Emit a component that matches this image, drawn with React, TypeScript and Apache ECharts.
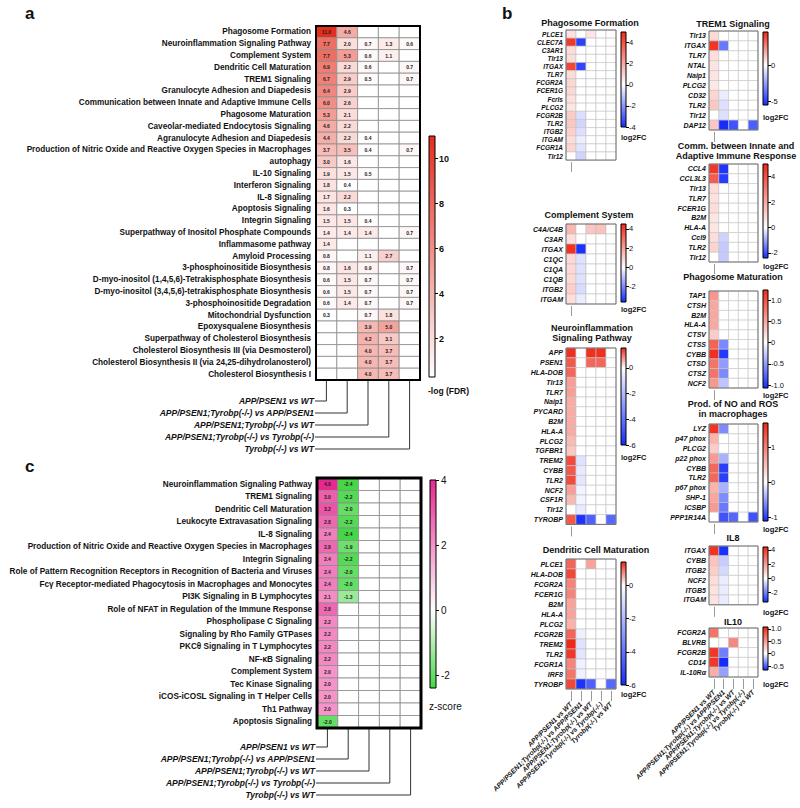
import React, { useEffect, useRef } from 'react';
import * as echarts from 'echarts';

const FONT = "'Liberation Sans', Arial, Helvetica, sans-serif";

const comparisons = [
  'APP/PSEN1 vs WT',
  'APP/PSEN1;Tyrobp(-/-) vs APP/PSEN1',
  'APP/PSEN1;Tyrobp(-/-) vs WT',
  'APP/PSEN1;Tyrobp(-/-) vs Tyrobp(-/-)',
  'Tyrobp(-/-) vs WT',
];

// ---------- Panel a : -log(FDR) ----------
const pathwaysA = [
  'Phagosome Formation',
  'Neuroinflammation Signaling Pathway',
  'Complement System',
  'Dendritic Cell Maturation',
  'TREM1 Signaling',
  'Granulocyte Adhesion and Diapedesis',
  'Communication between Innate and Adaptive Immune Cells',
  'Phagosome Maturation',
  'Caveolar-mediated Endocytosis Signaling',
  'Agranulocyte Adhesion and Diapedesis',
  'Production of Nitric Oxide and Reactive Oxygen Species in Macrophages',
  'autophagy',
  'IL-10 Signaling',
  'Interferon Signaling',
  'IL-8 Signaling',
  'Apoptosis Signaling',
  'Integrin Signaling',
  'Superpathway of Inositol Phosphate Compounds',
  'Inflammasome pathway',
  'Amyloid Processing',
  '3-phosphoinositide Biosynthesis',
  'D-myo-inositol (1,4,5,6)-Tetrakisphosphate Biosynthesis',
  'D-myo-inositol (3,4,5,6)-tetrakisphosphate Biosynthesis',
  '3-phosphoinositide Degradation',
  'Mitochondrial Dysfunction',
  'Epoxysqualene Biosynthesis',
  'Superpathway of Cholesterol Biosynthesis',
  'Cholesterol Biosynthesis III (via Desmosterol)',
  'Cholesterol Biosynthesis II (via 24,25-dihydrolanosterol)',
  'Cholesterol Biosynthesis I',
];
const aCol1 = [11.0, 7.7, 7.7, 6.9, 6.7, 6.4, 6.0, 5.3, 4.6, 4.4, 3.7, 3.0, 1.9, 1.8, 1.7, 1.6, 1.5, 1.4, 1.4, 0.8, 0.8, 0.6, 0.6, 0.6, 0.3, null, null, null, null, null];
const aCol2 = [4.6, 2.0, 5.3, 2.2, 2.9, 2.9, 2.6, 2.1, 2.2, 2.2, 3.5, 1.6, 1.5, 0.4, 2.2, 0.3, 1.5, 1.4, null, null, 1.6, 1.5, 1.5, 1.4, null, null, null, null, null, null];
const aCol3 = [null, 0.7, 0.6, 0.6, 0.5, null, null, null, null, 0.4, 0.4, null, 0.5, null, null, null, 0.4, 1.4, null, 1.1, 0.9, 0.7, 0.7, 0.7, 0.7, 3.9, 4.2, 4.0, 4.0, 4.0];
const aCol4 = [null, 1.3, 1.1, null, null, null, null, null, null, null, null, null, null, null, null, null, null, null, null, 2.7, null, null, null, null, 1.8, 5.0, 3.1, 3.7, 3.7, 3.7];
const aCol5 = [null, 0.6, null, 0.7, 0.7, null, null, null, null, null, 0.7, null, null, null, null, null, null, 0.7, null, null, 0.7, 0.7, 0.7, 0.7, null, null, null, null, null, null];
const aScaleMin = 0.3;
const aScaleMax = 11.0;
const aTicks = [2, 4, 6, 8, 10];

// ---------- Panel c : z-score ----------
const pathwaysC = [
  'Neuroinflammation Signaling Pathway',
  'TREM1 Signaling',
  'Dendritic Cell Maturation',
  'Leukocyte Extravasation Signaling',
  'IL-8 Signaling',
  'Production of Nitric Oxide and Reactive Oxygen Species in Macrophages',
  'Integrin Signaling',
  'Role of Pattern Recognition Receptors in Recognition of Bacteria and Viruses',
  'Fc\u03b3 Receptor-mediated Phagocytosis in Macrophages and Monocytes',
  'PI3K Signaling in B Lymphocytes',
  'Role of NFAT in Regulation of the Immune Response',
  'Phospholipase C Signaling',
  'Signaling by Rho Family GTPases',
  'PKC\u03b8 Signaling in T Lymphocytes',
  'NF-\u03baB Signaling',
  'Complement System',
  'Tec Kinase Signaling',
  'iCOS-iCOSL Signaling in T Helper Cells',
  'Th1 Pathway',
  'Apoptosis Signaling',
];
const cCol1 = [4.0, 3.0, 3.2, 2.8, 2.4, 2.8, 2.4, 2.4, 2.4, 2.1, 2.8, 2.2, 2.2, 2.2, 2.2, 2.0, 2.0, 2.0, 2.0, -2.0];
const cCol2 = [-2.4, -2.2, -2.0, -2.2, -2.4, -1.9, -2.2, -2.0, -2.0, -1.3, null, null, null, null, null, null, null, null, null, null];
const cCol3 = pathwaysC.map(() => null);
const cCol4 = pathwaysC.map(() => null);
const cCol5 = pathwaysC.map(() => null);
const cScaleMin = -2.4;
const cScaleMax = 4.0;
const cTicks = [-2, 0, 2, 4];

// ---------- Panel b : log2FC ----------
const pfGenes = ['PLCE1', 'CLEC7A', 'C3AR1', 'Tlr13', 'ITGAX', 'TLR7', 'FCGR2A', 'FCER1G', 'Fcrls', 'PLCG2', 'FCGR2B', 'TLR2', 'ITGB2', 'ITGAM', 'FCGR1A', 'Tlr12'];
const pfValues = [
  [0.7, 0, 0.6, 0, 0], [4.6, -3.6, 0, 0, 0], [0.8, 0, 0, 0, 0], [0.8, 0, 0, 0, 0],
  [4.3, -3.5, 0, 0, 0], [0.8, 0, 0, 0, 0], [0.9, 0, 0, 0, 0], [0.9, 0, 0, 0, 0],
  [0.7, 0, 0, 0, 0], [0.6, 0, 0, 0, 0], [1.2, -0.6, 0, 0, 0], [1.3, -0.8, 0, 0, 0],
  [1.1, -0.6, 0, 0, 0], [0.8, -0.3, 0, 0, 0], [1.0, -0.5, 0, 0, 0], [0, -0.8, 0, 0, 0],
];
const pfTicks = [-4, -2, 0, 2, 4];

const compGenes = ['C4A/C4B', 'C3AR', 'ITGAX', 'C1QC', 'C1QA', 'C1QB', 'ITGB2', 'ITGAM'];
const compValues = [
  [1.5, 0, 1.2, 1.3, 0], [0.7, 0, 0, 0, 0], [4.3, -3.5, 0, 0, 0], [0.8, -0.5, 0, 0, 0],
  [0.8, -0.5, 0, 0, 0], [0.8, -0.5, 0, 0, 0], [1.0, -0.6, 0, 0, 0], [0.7, -0.3, 0, 0, 0],
];
const compTicks = [-2, 0, 2, 4];

const neuroGenes = ['APP', 'PSEN1', 'HLA-DOB', 'Tlr13', 'TLR7', 'Naip1', 'PYCARD', 'B2M', 'HLA-A', 'PLCG2', 'TGFBR1', 'TREM2', 'CYBB', 'TLR2', 'NCF2', 'CSF1R', 'Tlr12', 'TYROBP'];
const neuroValues = [
  [1.5, 0, 1.5, 1.5, 0], [1.2, 0, 1.1, 1.1, 0], [1.1, 0, 0, 0, 0], [0.7, 0, 0, 0, 0],
  [0.7, 0, 0, 0, 0], [0.6, 0, 0, 0, 0], [0.6, 0, 0, 0, 0], [0.6, 0, 0, 0, 0],
  [0.6, 0, 0, 0, 0], [0.5, 0, 0, 0, 0], [0.4, 0, 0, 0, 0], [1.3, -0.8, 0, 0, 0],
  [1.2, -0.6, 0, 0, 0], [1.3, -0.7, 0, 0, 0], [0.7, -0.3, 0, 0, 0], [0.5, -0.3, 0, 0, 0],
  [0, -0.6, 0, 0, 0], [1.2, -5.8, -4.5, 0, -4.3],
];
const neuroTicks = [-6, -4, -2, 0];

const dcGenes = ['PLCE1', 'HLA-DOB', 'FCGR2A', 'FCER1G', 'B2M', 'HLA-A', 'PLCG2', 'FCGR2B', 'TREM2', 'TLR2', 'FCGR1A', 'IRF8', 'TYROBP'];
const dcValues = [
  [1.0, 0, 0.6, 0, 0], [1.2, 0, 0, 0, 0], [0.8, 0, 0, 0, 0], [0.8, 0, 0, 0, 0],
  [0.6, 0, 0, 0, 0], [0.6, 0, 0, 0, 0], [0.5, 0, 0, 0, 0], [1.0, -0.4, 0, 0, 0],
  [1.4, -0.8, 0, 0, 0], [1.3, -0.7, 0, 0, 0], [0.8, -0.4, 0, 0, 0], [0.9, -0.4, 0, 0, 0],
  [1.2, -5.8, -4.5, 0, -4.3],
];
const dcTicks = [-6, -4, -2, 0];

const trem1Genes = ['Tlr13', 'ITGAX', 'TLR7', 'NTAL', 'Naip1', 'PLCG2', 'CD32', 'TLR2', 'Tlr12', 'DAP12'];
const trem1Values = [
  [0.8, 0, 0, 0, 0], [4.3, -3.5, 0, 0, 0], [0.7, 0, 0, 0, 0], [0.6, 0, 0, 0, 0],
  [0.6, 0, 0, 0, 0], [0.5, 0, 0, 0, 0], [0.9, -0.5, 0, 0, 0], [1.2, -0.8, 0, 0, 0],
  [0, -0.8, 0, 0, 0], [1.2, -5.5, -4.5, 0, -4.2],
];
const trem1Ticks = [-5, 0];

const commGenes = ['CCL4', 'CCL3L3', 'Tlr13', 'TLR7', 'FCER1G', 'B2M', 'HLA-A', 'Ccl9', 'TLR2', 'Tlr12'];
const commValues = [
  [4.6, -2.3, 0, 0, 0], [3.8, -2.2, 0, 0, 0], [0.8, 0, 0, 0, 0], [0.7, 0, 0, 0, 0],
  [0.8, 0, 0, 0, 0], [0.6, 0, 0, 0, 0], [0.6, 0, 0, 0, 0], [0.8, -0.5, 0, 0, 0],
  [1.0, -0.6, 0, 0, 0], [0, -0.6, 0, 0, 0],
];
const commTicks = [-2, 0, 2, 4];

const pmGenes = ['TAP1', 'CTSH', 'B2M', 'HLA-A', 'CTSV', 'CTSS', 'CYBB', 'CTSD', 'CTSZ', 'NCF2'];
const pmValues = [
  [0.6, 0, 0, 0, 0], [0.5, 0, 0, 0, 0], [0.5, 0, 0, 0, 0], [0.5, 0, 0, 0, 0],
  [0.3, 0, 0, 0, 0], [0.9, -0.6, 0, 0, 0], [1.2, -1.0, 0, 0, 0], [0.8, -0.5, 0, 0, 0],
  [0.8, -0.6, 0, 0, 0], [0.6, -0.3, 0, 0, 0],
];
const pmTicks = [-1, -0.5, 0, 0.5, 1];

const prodGenes = ['LYZ', 'p47 phox', 'PLCG2', 'p22 phox', 'CYBB', 'TLR2', 'p67 phox', 'SHP-1', 'ICSBP', 'PPP1R14A'];
const prodValues = [
  [1.6, -0.6, 0, 0, 0], [0.6, 0, 0, 0, 0], [0.4, 0, 0, 0, 0], [0.8, -0.4, 0, 0, 0],
  [1.2, -1.0, 0, 0, 0], [1.2, -1.0, 0, 0, 0], [0.6, -0.4, 0, 0, 0], [0.7, -0.6, 0, 0, 0],
  [0.8, -0.7, 0, 0, 0], [0, -0.9, -0.8, 0, -0.9],
];
const prodTicks = [-1, 0, 1];

const il8Genes = ['ITGAX', 'CYBB', 'ITGB2', 'NCF2', 'ITGB5', 'ITGAM'];
const il8Values = [
  [4.2, -3.2, 0, 0, 0], [1.2, -0.8, 0, 0, 0], [1.0, -0.6, 0, 0, 0],
  [0.7, -0.3, 0, 0, 0], [0.6, -0.3, 0, 0, 0], [0.6, -0.3, 0, 0, 0],
];
const il8Ticks = [-2, 0, 2, 4];

const il10Genes = ['FCGR2A', 'BLVRB', 'FCGR2B', 'CD14', 'IL-10R\u03b1'];
const il10Values = [
  [0.7, 0, 0, 0, 0], [0, 0, 0.6, 0, 0], [1.0, -0.4, 0, 0, 0], [1.0, -0.66, 0, 0, 0], [0.4, -0.3, 0, 0, 0],
];
const il10Ticks = [-0.5, 0, 0.5, 1];

// ---------- colours ----------
type RGB = [number, number, number];
const RED_A: RGB = [229, 45, 30];
const RED_B: RGB = [240, 40, 22];
const BLUE_B: RGB = [20, 44, 252];
const PINK_C: RGB = [232, 40, 145];
const GREEN_C: RGB = [70, 215, 70];

function mix(c: RGB, t: number) {
  const k = Math.max(0, Math.min(1, t));
  const r = Math.round(255 + (c[0] - 255) * k);
  const g = Math.round(255 + (c[1] - 255) * k);
  const b = Math.round(255 + (c[2] - 255) * k);
  return `rgb(${r},${g},${b})`;
}
function divColor(v: number, min: number, max: number, neg: RGB, pos: RGB) {
  if (v >= 0) return mix(pos, v / max);
  return mix(neg, v / min);
}

function buildOption() {
  const grid: any[] = [];
  const xAxis: any[] = [];
  const yAxis: any[] = [];
  const series: any[] = [];
  const graphic: any[] = [];

  const txt = (x: number, y: number, t: string, size: number, o: any = {}) =>
    graphic.push({
      type: 'text', x, y, rotation: o.rotation || 0, z: 120, silent: true,
      style: {
        text: t, fill: o.color || '#111', fontSize: size, fontWeight: o.weight || 'bold',
        fontStyle: o.style || 'normal', fontFamily: FONT,
        textAlign: o.align || 'left', align: o.align || 'left',
        textVerticalAlign: o.vAlign || 'middle', verticalAlign: o.vAlign || 'middle',
      },
    });

  const addHeatmap = (o: any) => {
    const gi = grid.length;
    const nRows = o.rows.length;
    grid.push({ left: o.left, top: o.top, width: o.width, height: o.rowH * nRows, show: false });
    xAxis.push({
      type: 'category', gridIndex: gi, data: comparisons, position: 'bottom', offset: o.tickOffset || 0,
      axisLine: { show: false },
      axisTick: o.ticks ? { show: true, alignWithLabel: true, length: o.ticks, lineStyle: { color: '#9a9a9a', width: 1 } } : { show: false },
      axisLabel: o.xLabels ? {
        show: true, interval: 0, rotate: 45, margin: o.ticks + 2, fontSize: o.xLabelSize,
        fontWeight: 'bold', fontStyle: 'italic', fontFamily: FONT, color: '#111',
      } : { show: false },
      splitLine: { show: false },
    });
    yAxis.push({
      type: 'category', gridIndex: gi, data: o.rows, inverse: true,
      axisLine: { show: false }, axisTick: { show: false }, splitLine: { show: false },
      axisLabel: {
        interval: 0, fontSize: o.fontSize, fontWeight: 'bold', fontStyle: o.italic ? 'italic' : 'normal',
        fontFamily: FONT, color: '#111', margin: o.labelMargin,
      },
    });
    const data: any[] = [];
    o.cols.forEach((col: (number | null)[], ci: number) => {
      col.forEach((v, ri) => {
        data.push(v == null ? [ci, ri, 0, 1] : [ci, ri, v, 0]);
      });
    });
    const colorFn = o.colorFn;
    const showValues = o.showValues;
    series.push({
      type: 'custom', xAxisIndex: gi, yAxisIndex: gi, data, silent: true,
      dimensions: ['col', 'row', 'value', 'empty'],
      encode: { x: 0, y: 1 },
      renderItem: (params: any, api: any) => {
        const ci = api.value(0);
        const ri = api.value(1);
        const v = api.value(2);
        const empty = api.value(3) === 1;
        const c = api.coord([ci, ri]);
        const s = api.size([1, 1]);
        const rect = {
          type: 'rect',
          shape: { x: c[0] - s[0] / 2, y: c[1] - s[1] / 2, width: s[0], height: s[1] },
          style: { fill: empty ? '#ffffff' : colorFn(v), stroke: o.cellBorder, lineWidth: o.cellBorderWidth },
        };
        if (!showValues || empty) return rect;
        return {
          type: 'group',
          children: [
            rect,
            {
              type: 'text', x: c[0], y: c[1],
              style: {
                text: Number(v).toFixed(1), fill: '#222', fontSize: o.valueSize, fontWeight: 'bold', fontFamily: FONT,
                align: 'center', verticalAlign: 'middle', textAlign: 'center', textVerticalAlign: 'middle',
              },
            },
          ],
        };
      },
    });
    graphic.push({
      type: 'rect', z: 115, silent: true,
      shape: { x: o.left, y: o.top, width: o.width, height: o.rowH * nRows },
      style: { fill: 'rgba(0,0,0,0)', stroke: o.boxColor, lineWidth: o.boxWidth },
    });
  };

  const addColorbar = (o: any) => {
    const gi = grid.length;
    grid.push({ left: o.x, top: o.top, width: o.w, height: o.bottom - o.top, show: false });
    xAxis.push({ type: 'category', gridIndex: gi, data: ['cb'], show: false });
    yAxis.push({
      type: 'value', gridIndex: gi, min: o.min, max: o.max, position: 'right',
      axisLine: { show: false }, splitLine: { show: false },
      axisTick: { show: true, length: 3, customValues: o.ticks, lineStyle: { color: '#000', width: 1 } },
      axisLabel: {
        show: true, customValues: o.ticks, margin: o.labelMargin || 3, fontSize: o.fontSize,
        fontWeight: o.weight || 'normal', fontFamily: FONT, color: '#111',
        formatter: (v: number) => (v === 0 ? '0' : v.toFixed(o.dec || 0)),
      },
    });
    const stops = o.stops;
    const mn = o.min;
    const mx = o.max;
    series.push({
      type: 'custom', xAxisIndex: gi, yAxisIndex: gi, data: [[0, mx]], silent: true,
      renderItem: (params: any, api: any) => {
        const p1 = api.coord([0, mx]);
        const p2 = api.coord([0, mn]);
        const cs = params.coordSys;
        return {
          type: 'rect',
          shape: { x: cs.x, y: p1[1], width: cs.width, height: p2[1] - p1[1] },
          style: { fill: new echarts.graphic.LinearGradient(0, 0, 0, 1, stops), stroke: '#000', lineWidth: 1 },
        };
      },
    });
  };

  // ======== Panel a ========
  const A_LEFT = 316, A_TOP = 26, A_W = 104, A_ROWH = 11.8;
  addHeatmap({
    left: A_LEFT, top: A_TOP, width: A_W, rowH: A_ROWH, rows: pathwaysA,
    cols: [aCol1, aCol2, aCol3, aCol4, aCol5],
    colorFn: (v: number) => mix(RED_A, (v - aScaleMin) / (aScaleMax - aScaleMin)),
    fontSize: 8.2, italic: false, labelMargin: 5, showValues: true, valueSize: 5,
    cellBorder: '#8c8c8c', cellBorderWidth: 0.8, boxColor: '#000', boxWidth: 2,
  });
  addColorbar({
    x: 429, w: 6, top: 136, bottom: 377, min: aScaleMin, max: aScaleMax, ticks: aTicks,
    fontSize: 9, weight: 'bold', labelMargin: 4,
    stops: [{ offset: 0, color: mix(RED_A, 1) }, { offset: 1, color: mix(RED_A, 0) }],
  });
  txt(428, 391, '-log (FDR)', 8.5);
  const aBottom = A_TOP + A_ROWH * pathwaysA.length;
  comparisons.forEach((c, i) => {
    const cx = A_LEFT + (i + 0.5) * (A_W / 5);
    const ly = 401 + i * 12;
    graphic.push({ type: 'polyline', z: 110, silent: true, shape: { points: [[cx, aBottom], [cx, ly], [A_LEFT - 1, ly]] }, style: { stroke: '#333', lineWidth: 1, fill: null } });
    txt(A_LEFT - 2, ly, c, 8.5, { style: 'italic', align: 'right' });
  });
  txt(25, 13, 'a', 17);

  // ======== Panel c ========
  const C_LEFT = 317, C_TOP = 478, C_W = 104, C_ROWH = 12.5;
  addHeatmap({
    left: C_LEFT, top: C_TOP, width: C_W, rowH: C_ROWH, rows: pathwaysC,
    cols: [cCol1, cCol2, cCol3, cCol4, cCol5],
    colorFn: (v: number) => divColor(v, cScaleMin, cScaleMax, GREEN_C, PINK_C),
    fontSize: 8.2, italic: false, labelMargin: 5, showValues: true, valueSize: 5,
    cellBorder: '#8c8c8c', cellBorderWidth: 0.8, boxColor: '#000', boxWidth: 3,
  });
  const cz = cScaleMax / (cScaleMax - cScaleMin);
  addColorbar({
    x: 430, w: 6, top: 480, bottom: 688, min: cScaleMin, max: cScaleMax, ticks: cTicks,
    fontSize: 10, weight: 'normal', labelMargin: 5,
    stops: [{ offset: 0, color: mix(PINK_C, 1) }, { offset: cz, color: '#ffffff' }, { offset: 1, color: mix(GREEN_C, 1) }],
  });
  txt(429, 706, 'z-score', 10, { weight: 'normal' });
  const cBottom = C_TOP + C_ROWH * pathwaysC.length;
  comparisons.forEach((c, i) => {
    const cx = C_LEFT + (i + 0.5) * (C_W / 5);
    const ly = 747 + i * 12;
    graphic.push({ type: 'polyline', z: 110, silent: true, shape: { points: [[cx, cBottom], [cx, ly], [C_LEFT - 1, ly]] }, style: { stroke: '#333', lineWidth: 1, fill: null } });
    txt(C_LEFT - 2, ly, c, 8.5, { style: 'italic', align: 'right' });
  });
  txt(25, 466, 'c', 17);

  // ======== Panel b ========
  txt(502, 13, 'b', 17);
  const bPanels = [
    { genes: pfGenes, values: pfValues, ticks: pfTicks, title: ['Phagosome Formation'], titleY: 23, titleX: 590, left: 566, width: 50, top: 30, rowH: 8.13, cbX: 621, cbTop: 32, cbBottom: 127, min: -4, max: 5, logY: 137, fs: 6.5, dec: 0 },
    { genes: compGenes, values: compValues, ticks: compTicks, title: ['Complement System'], titleY: 215, titleX: 589, left: 566, width: 50, top: 224, rowH: 10, cbX: 621, cbTop: 224, cbBottom: 302, min: -3.6, max: 4.5, logY: 309, fs: 7, dec: 0 },
    { genes: neuroGenes, values: neuroValues, ticks: neuroTicks, title: ['Neuroinflammation', 'Signaling Pathway'], titleY: 328, titleX: 592, left: 566, width: 50, top: 348, rowH: 9.8, cbX: 621, cbTop: 348, cbBottom: 445, min: -6, max: 1.55, logY: 457, fs: 7, dec: 0 },
    { genes: dcGenes, values: dcValues, ticks: dcTicks, title: ['Dendritic Cell Maturation'], titleY: 550, titleX: 596, left: 566, width: 50, top: 559, rowH: 10, cbX: 621, cbTop: 562, cbBottom: 685, min: -6, max: 1.4, logY: 694, fs: 7, dec: 0, xLabels: true },
    { genes: trem1Genes, values: trem1Values, ticks: trem1Ticks, title: ['TREM1 Signaling'], titleY: 24, titleX: 733, left: 709, width: 49, top: 31, rowH: 9.9, cbX: 763, cbTop: 32, cbBottom: 105, min: -5.5, max: 4.6, logY: 117, fs: 7, dec: 0 },
    { genes: commGenes, values: commValues, ticks: commTicks, title: ['Comm. between Innate and', 'Adaptive Immune Response'], titleY: 146, titleX: 736, left: 709, width: 49, top: 164, rowH: 9.8, cbX: 763, cbTop: 164, cbBottom: 258, min: -2.4, max: 5.0, logY: 266, fs: 7, dec: 0 },
    { genes: pmGenes, values: pmValues, ticks: pmTicks, title: ['Phagosome Maturation'], titleY: 277, titleX: 733, left: 709, width: 49, top: 291, rowH: 9.7, cbX: 763, cbTop: 290, cbBottom: 388, min: -1.07, max: 1.24, logY: 395, fs: 7, dec: 1 },
    { genes: prodGenes, values: prodValues, ticks: prodTicks, title: ['Prod. of NO and ROS', 'in macrophages'], titleY: 404, titleX: 733, left: 709, width: 49, top: 424, rowH: 9.8, cbX: 763, cbTop: 423, cbBottom: 521, min: -1.1, max: 1.7, logY: 529, fs: 7, dec: 0 },
    { genes: il8Genes, values: il8Values, ticks: il8Ticks, title: ['IL8'], titleY: 538, titleX: 733, left: 709, width: 49, top: 546, rowH: 9.8, cbX: 763, cbTop: 547, cbBottom: 602, min: -3.3, max: 4.4, logY: 612, fs: 7, dec: 0 },
    { genes: il10Genes, values: il10Values, ticks: il10Ticks, title: ['IL10'], titleY: 622, titleX: 733, left: 709, width: 49, top: 628, rowH: 9.8, cbX: 763, cbTop: 627, cbBottom: 670, min: -0.66, max: 1.08, logY: 684, fs: 7, dec: 1, xLabels: true },
  ];
  bPanels.forEach((p) => {
    const cols = [0, 1, 2, 3, 4].map((ci) => p.values.map((row) => row[ci]));
    addHeatmap({
      left: p.left, top: p.top, width: p.width, rowH: p.rowH, rows: p.genes, cols,
      colorFn: (v: number) => divColor(v, p.min, p.max, BLUE_B, RED_B),
      fontSize: p.fs, italic: true, labelMargin: 3, showValues: false,
      cellBorder: '#c4c4c4', cellBorderWidth: 0.6, boxColor: '#6e6e6e', boxWidth: 1,
      ticks: 10, tickOffset: 2, xLabels: !!p.xLabels, xLabelSize: 6.8,
    });
    const z = p.max / (p.max - p.min);
    addColorbar({
      x: p.cbX, w: 5, top: p.cbTop, bottom: p.cbBottom, min: p.min, max: p.max, ticks: p.ticks,
      fontSize: 7.5, weight: 'normal', labelMargin: 3, dec: p.dec,
      stops: [{ offset: 0, color: mix(RED_B, 1) }, { offset: z, color: '#ffffff' }, { offset: 1, color: mix(BLUE_B, 1) }],
    });
    p.title.forEach((t, i) => txt(p.titleX, p.titleY + i * 10, t, 9, { align: 'center' }));
    txt(p.cbX, p.logY, 'log2FC', 7.5);
  });

  return { animation: false, backgroundColor: '#ffffff', grid, xAxis, yAxis, series, graphic };
}

export default function App() {
  const ref = useRef<HTMLDivElement>(null);
  useEffect(() => {
    const el = ref.current;
    if (!el) return;
    const chart = echarts.init(el, null, { renderer: 'svg' });
    chart.setOption(buildOption());
    return () => chart.dispose();
  }, []);
  return (
    <div
      ref={ref}
      style={{ position: 'absolute', left: 0, top: 0, width: 800, height: 808, background: '#fff' }}
    />
  );
}
